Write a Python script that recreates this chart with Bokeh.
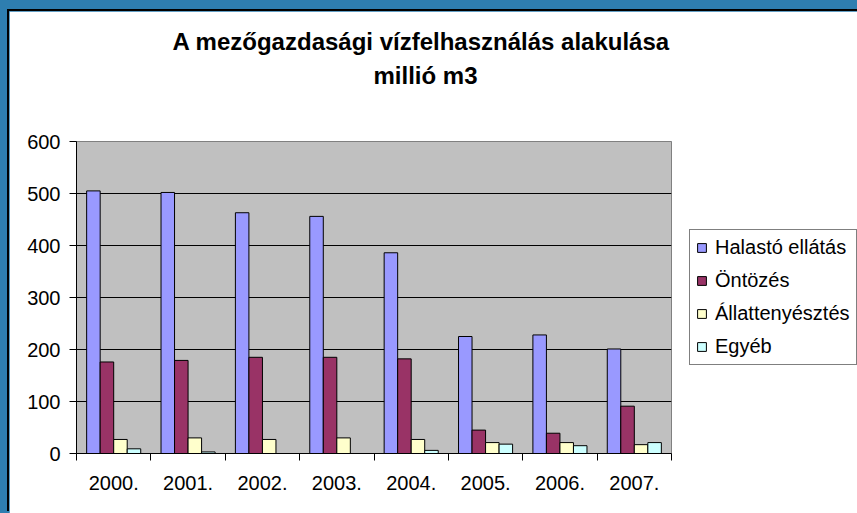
from bokeh.plotting import figure
from bokeh.models import (ColumnDataSource, FixedTicker, Legend, LegendItem, Title,
                          GlobalInlineStyleSheet)
from bokeh.transform import dodge
from bokeh.embed import file_html
from bokeh.resources import INLINE

years = ["2000.", "2001.", "2002.", "2003.", "2004.", "2005.", "2006.", "2007."]
halasto = [505, 502, 463, 456, 386, 225, 228, 201]
ontozes = [176, 179, 185, 185, 182, 45, 39, 91]
allattenyesztes = [27, 30, 27, 30, 27, 21, 21, 17]
egyeb = [9, 3, 0, 0, 6, 18, 15, 21]
series_names = ["Halastó ellátás", "Öntözés", "Állattenyésztés", "Egyéb"]
series_colors = ["#9999FF", "#993366", "#FFFFCC", "#CCFFFF"]
y_ticks = [0, 100, 200, 300, 400, 500, 600]
title_line1 = "A mezőgazdasági vízfelhasználás alakulása"
title_line2 = "millió m3"

FONT = "Liberation Sans"
centers = [i + 0.5 for i in range(len(years))]
bounds = [float(i) for i in range(len(years) + 1)]

src = ColumnDataSource(dict(x=centers, s0=halasto, s1=ontozes, s2=allattenyesztes, s3=egyeb))

p = figure(frame_width=595, frame_height=312, x_range=(0, len(years)), y_range=(0, 600),
           output_backend="svg", toolbar_location=None,
           min_border_left=67, min_border_right=186, min_border_top=130, min_border_bottom=60,
           background_fill_color="#C0C0C0", border_fill_color="white",
           outline_line_color="#808080", outline_line_width=1)
p.title = None
p.stylesheets = [GlobalInlineStyleSheet(
    css="body{background:#2E7EB0 !important; padding:11px 0 0 9px !important; overflow:hidden;}")]
p.styles = {"box-shadow": "-2px -2px 0 0 black"}

w = 1 / 5.5
offsets = [-1.5 * w, -0.5 * w, 0.5 * w, 1.5 * w]
renderers = []
for k in range(4):
    r = p.vbar(x=dodge("x", offsets[k], range=p.x_range), top=f"s{k}", width=w, bottom=0,
               source=src, fill_color=series_colors[k], line_color="black", line_width=1)
    renderers.append(r)

# axes
p.yaxis.ticker = FixedTicker(ticks=y_ticks)
p.yaxis.major_tick_in = 0
p.yaxis.major_tick_out = 7
p.yaxis.minor_tick_line_color = None
p.yaxis.axis_line_color = "black"
p.yaxis.major_tick_line_color = "black"
p.yaxis.major_label_standoff = 9
p.yaxis.major_label_text_font = FONT
p.yaxis.major_label_text_font_size = "20px"
p.yaxis.major_label_text_color = "black"

p.xaxis.ticker = FixedTicker(ticks=centers, minor_ticks=bounds)
p.xaxis.major_label_overrides = {c: y for c, y in zip(centers, years)}
p.xaxis.major_tick_line_color = None
p.xaxis.major_tick_in = 0
p.xaxis.major_tick_out = 7
p.xaxis.minor_tick_in = 0
p.xaxis.minor_tick_out = 7
p.xaxis.minor_tick_line_color = "black"
p.xaxis.axis_line_color = "black"
p.xaxis.major_label_standoff = 15
p.xaxis.major_label_text_font = FONT
p.xaxis.major_label_text_font_size = "20px"
p.xaxis.major_label_text_color = "black"

p.xgrid.visible = False
p.ygrid.ticker = FixedTicker(ticks=y_ticks[1:-1])
p.ygrid.grid_line_color = "black"
p.ygrid.grid_line_width = 1

legend = Legend(items=[LegendItem(label=n, renderers=[r]) for n, r in zip(series_names, renderers)],
                location=(18, 88), border_line_color="black", border_line_width=1,
                background_fill_color="white", background_fill_alpha=1,
                padding=6, spacing=10, label_height=20, glyph_height=11, glyph_width=11,
                label_standoff=8, margin=0,
                label_text_font=FONT, label_text_font_size="20px", label_text_color="black")
p.add_layout(legend, "right")

# invisible spacer between frame and title lines
p.add_layout(Title(text=".", text_color="white", text_font_size="68px", standoff=0,
                   vertical_align="top"), "above")
p.add_layout(Title(text=title_line2, align="left", offset=297, vertical_align="middle",
                   standoff=5, text_font=FONT, text_font_style="bold",
                   text_font_size="24px", text_color="black"), "above")
p.add_layout(Title(text=title_line1, align="left", offset=96, vertical_align="middle",
                   standoff=5, text_font=FONT, text_font_style="bold",
                   text_font_size="24px", text_color="black"), "above")

open("out.html", "w").write(file_html(p, INLINE))
